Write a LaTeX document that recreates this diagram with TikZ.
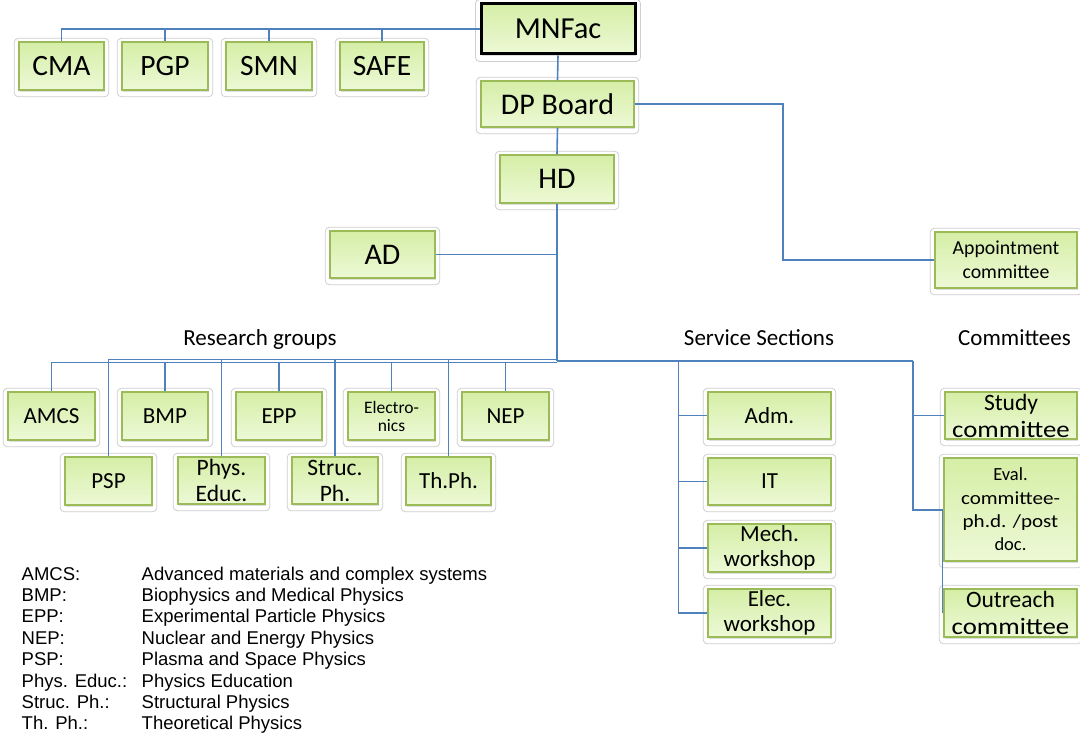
\documentclass[tikz,border=0pt]{standalone}
\usepackage{fontspec}
\setmainfont{Carlito}
\newfontfamily\legfont{Liberation Sans}
\newfontfamily\widefont[FakeStretch=1.14]{Carlito}
\usetikzlibrary{shadows}
\definecolor{gborder}{HTML}{9BBB59}
\definecolor{gtop}{HTML}{D5EEA6}
\definecolor{gbot}{HTML}{EDF9D6}
\definecolor{conn}{HTML}{4F81BD}
\definecolor{framec}{HTML}{CFCFCF}
\newcommand\fs[2]{\fontsize{#1}{#2}\selectfont}
\tikzset{
  gbox/.style={draw=gborder, line width=1.5pt, top color=gtop, bottom color=gbot,
    inner sep=0pt, align=center,
    drop shadow={shadow xshift=1.2pt, shadow yshift=-1.6pt, opacity=0.25}},
  topbox/.style={draw=black, line width=3pt},
  framebox/.style={draw=framec, line width=0.8pt, rounded corners=4pt},
  connline/.style={draw=conn, line width=1.6pt},
  grouplabel/.style={font=\fs{23}{27}, anchor=base, inner sep=0pt},
  legtext/.style={font=\legfont\fs{18.5}{22}, anchor=base west, inner sep=0pt}
}
% [style] name, x1, y1, x2, y2, font, text
\newcommand\ob[8][]{%
  \node[gbox,#1,font={#7},minimum width={(#5-#3)*1pt},minimum height={(#6-#4)*1pt}]
    (#2) at ({(#3+#5)/2},{(#4+#6)/2}) {#8};
  \draw[framebox] ([xshift=-4pt,yshift=3pt]#2.north west) rectangle ([xshift=4pt,yshift=-6pt]#2.south east);}
\begin{document}
\begin{tikzpicture}[x=1pt,y=-1pt]
\useasboundingbox[fill=white] (0,0) rectangle (1080,738);

% top level
\ob[topbox]{mnfac}{481}{4}{635}{54}{\fs{30.5}{34}}{MNFac}
\ob{cma}{19}{42}{104}{90}{\fs{29.5}{34}}{CMA}
\ob{pgp}{122}{42}{208}{90}{\fs{29.5}{34}}{PGP}
\ob{smn}{226}{42}{312}{90}{\fs{29.5}{34}}{SMN}
\ob{safe}{340}{42}{424}{90}{\fs{29.5}{34}}{SAFE}
\ob{dp}{481}{81}{634}{127}{\fs{30}{34}}{DP Board}
\ob{hd}{500}{155}{614}{203}{\fs{30}{34}}{HD}
\ob{ad}{330}{231}{435}{278}{\fs{30}{34}}{AD}
\ob{apc}{935}{232}{1077}{288}{\fs{19.8}{24}}{Appointment\\committee}

% research groups
\ob{amcs}{8}{392}{95}{440}{\fs{23}{27}}{AMCS}
\ob{bmp}{122}{392}{208}{440}{\fs{23}{27}}{BMP}
\ob{epp}{236}{392}{322}{440}{\fs{23}{27}}{EPP}
\ob{elx}{348}{392}{435}{440}{\fs{17.5}{18}}{Electro-\\nics}
\ob{nep}{462}{392}{549}{440}{\fs{23}{27}}{NEP}
\ob{psp}{65}{457}{152}{505}{\fs{23}{27}}{PSP}
\ob{phys}{178}{457}{265}{504}{\fs{23.5}{26}}{Phys.\\Educ.}
\ob{struc}{292}{457}{378}{504}{\fs{23.5}{26}}{Struc.\\Ph.}
\ob{thph}{406}{457}{491}{505}{\fs{23}{27}}{Th.Ph.}

% service sections
\ob{adm}{708}{392}{831}{439}{\fs{23}{25}}{Adm.}
\ob{it}{708}{458}{831}{505}{\fs{23}{25}}{IT}
\ob{mech}{708}{524}{831}{572}{\fs{23}{25.5}}{Mech.\\workshop}
\ob{elec}{708}{589}{831}{637}{\fs{23}{25.5}}{Elec.\\workshop}

% committees
\ob{study}{945}{392}{1077}{439}{\fs{23.5}{27}}{Study\\{\widefont committee}}
\ob{eval}{944}{458}{1077}{561}{\fs{18.5}{23.3}}{Eval.\\{\widefont committee-}\\{\widefont ph.d. /post}\\doc.}
\ob{outreach}{944}{589}{1077}{637}{\fs{23.5}{27}}{Outreach\\{\widefont committee}}

% group labels
\node[grouplabel] (lres) at (260,345) {Research groups};
\node[grouplabel] (lsvc) at (759,345) {Service Sections};
\node[grouplabel] (lcom) at (1014.5,345) {Committees};

% connectors: top
\draw[connline] (mnfac.west) -| (cma.north);
\foreach \n in {pgp,smn,safe} \draw[connline] (\n.north) -- (\n.north |- mnfac.west);
\draw[connline] (mnfac.south) -- (dp.north);
\draw[connline] (dp.south) -- (hd.north);
\coordinate (apcturn) at (783,104);
\draw[connline] (dp.east) -- (dp.east -| apcturn) |- (apc.west);
\coordinate (bus) at (557,361);
\draw[connline] (hd.south) -- (bus);
\draw[connline] (ad.east) -- (ad.east -| hd.south);

% research buses
\coordinate (busA) at (557,362.5);
\coordinate (busB) at (557,359.5);
\draw[connline] (amcs.north) |- (busA);
\foreach \n in {bmp,epp,elx,nep} \draw[connline] (\n.north) -- (\n.north |- busA);
\draw[connline] (psp.north) |- (busB);
\foreach \n in {phys,struc,thph} \draw[connline] (\n.north) -- (\n.north |- busB);

% service sections
\coordinate (svc) at (678.5,361);
\coordinate (cmt) at (913,361);
\draw[connline] (bus) -- (cmt);
\draw[connline] (svc) |- (elec.west);
\foreach \n in {adm,it,mech} \draw[connline] (svc |- \n.west) -- (\n.west);

% committees
\coordinate (ej) at (942.5,510);
\draw[connline] (cmt) |- (study.west);
\draw[connline] (cmt) |- (ej) -- (ej |- outreach.west);

% legend
\foreach \a/\b [count=\i from 0] in {AMCS:/Advanced materials and complex systems,
  BMP:/Biophysics and Medical Physics,
  EPP:/Experimental Particle Physics,
  NEP:/Nuclear and Energy Physics,
  PSP:/Plasma and Space Physics,
  Phys. Educ.:/Physics Education,
  Struc. Ph.:/Structural Physics,
  Th. Ph.:/Theoretical Physics}{
  \node[legtext] (abbr\i) at (21.5,{580+21.4*\i}) {\a};
  \node[legtext] (desc\i) at (141.5,{580+21.4*\i}) {\b};
}
\end{tikzpicture}
\end{document}
